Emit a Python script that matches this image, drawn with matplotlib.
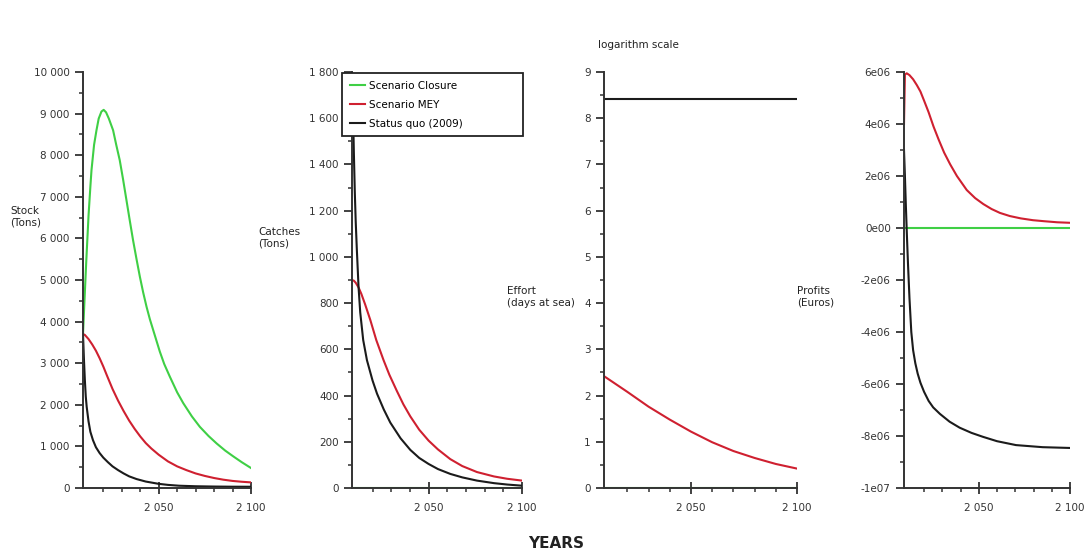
import matplotlib
matplotlib.use("Agg")
import matplotlib.pyplot as plt
from matplotlib.ticker import FixedLocator, AutoMinorLocator, FuncFormatter

plt.rcParams['font.family'] = ['DejaVu Sans']

# ---- data ----
stock_closure_years = [2009, 2010, 2010.8, 2012, 2013, 2013.6, 2015, 2016.3, 2017.5, 2019, 2020.2, 2021.5,
                       2023, 2025.3, 2027, 2028.9, 2030.7, 2032.5, 2034.3, 2036.1, 2038, 2039.8, 2041.6,
                       2043.4, 2045.2, 2047, 2050.6, 2053, 2056, 2060, 2063.3, 2068, 2072.3, 2077, 2081.4,
                       2086, 2090.4, 2095, 2100]
stock_closure = [3700, 4700, 5480, 6550, 7250, 7640, 8250, 8600, 8880, 9050, 9090, 9030,
                 8880, 8600, 8250, 7880, 7420, 6930, 6440, 5960, 5500, 5080, 4700,
                 4360, 4060, 3800, 3280, 2980, 2680, 2300, 2040, 1720, 1470, 1250, 1070,
                 900, 760, 620, 480]
stock_mey_years = [2009, 2010, 2012, 2014, 2016, 2018, 2020, 2022, 2025, 2028, 2031, 2034, 2037, 2040,
                   2043, 2046, 2050, 2055, 2060, 2065, 2070, 2075, 2080, 2085, 2090, 2095, 2100]
stock_mey = [3700, 3680, 3580, 3450, 3300, 3120, 2920, 2700, 2380, 2100, 1850, 1620, 1420, 1240,
             1080, 950, 800, 640, 520, 430, 350, 290, 240, 200, 170, 150, 135]
stock_sq_years = [2009, 2009.5, 2010, 2010.5, 2011, 2012, 2013, 2014.4, 2016, 2018, 2020, 2022.5, 2025,
                  2028, 2031, 2034, 2038, 2043, 2050, 2055, 2061, 2070, 2080, 2090, 2100]
stock_sq = [3700, 3100, 2600, 2200, 1950, 1600, 1350, 1150, 980, 840, 730, 620, 520,
            430, 350, 280, 215, 155, 100, 75, 55, 42, 35, 31, 30]

catch_years_mey = [2009, 2010, 2011, 2012.5, 2014, 2016, 2018.8, 2022, 2025.9, 2029, 2033, 2036.5, 2040.2,
                   2045, 2050, 2055, 2061.6, 2068, 2075.9, 2085, 2092, 2100]
catch_mey = [900, 897, 888, 868, 840, 795, 727, 640, 553, 490, 420, 362, 310,
             252, 205, 167, 125, 95, 69, 50, 40, 32]
catch_years_sq = [2009, 2009.5, 2010, 2010.5, 2011, 2011.6, 2012.5, 2013.4, 2015, 2017, 2020, 2022.4, 2026,
                  2029.5, 2035, 2040.2, 2045, 2050, 2055, 2061.6, 2068, 2075.9, 2085, 2092, 2100]
catch_sq = [1800, 1650, 1450, 1280, 1150, 1030, 870, 760, 640, 553, 465, 408, 340,
            283, 215, 165, 130, 104, 82, 61, 46, 32, 21, 15, 10]
catch_closure_years = [2009, 2100]
catch_closure = [0, 0]

effort_years = [2009, 2020, 2030, 2040, 2050, 2060, 2070, 2080, 2090, 2100]
effort_mey = [2.42, 2.08, 1.76, 1.48, 1.22, 0.99, 0.80, 0.65, 0.52, 0.42]
effort_sq = [8.42] * len(effort_years)
effort_closure = [0] * len(effort_years)

profit_mey_years = [2009, 2009.5, 2010.5, 2012, 2014, 2016, 2018, 2020, 2022.5, 2025.2, 2028, 2031, 2034.3,
                    2038, 2043.4, 2048, 2052.5, 2057, 2061.6, 2067, 2073, 2079.7, 2086, 2093, 2100]
profit_mey = [4.0e6, 5.9e6, 5.95e6, 5.88e6, 5.72e6, 5.5e6, 5.25e6, 4.9e6, 4.45e6, 3.9e6, 3.4e6, 2.9e6, 2.45e6,
              2.0e6, 1.46e6, 1.15e6, 0.92e6, 0.73e6, 0.58e6, 0.46e6, 0.37e6, 0.3e6, 0.26e6, 0.22e6, 0.2e6]
profit_sq_years = [2009, 2009.5, 2010, 2010.6, 2011.2, 2012, 2013, 2014, 2015.2, 2016.5, 2018, 2020, 2022.5,
                   2025, 2028.7, 2034, 2039.5, 2046, 2052.2, 2060, 2070.4, 2085, 2100]
profit_sq = [3.0e6, 2.0e6, 0.9e6, -0.3e6, -1.4e6, -2.7e6, -4.0e6, -4.7e6, -5.2e6, -5.6e6, -5.95e6, -6.3e6, -6.65e6,
             -6.9e6, -7.15e6, -7.45e6, -7.68e6, -7.88e6, -8.03e6, -8.2e6, -8.35e6, -8.43e6, -8.46e6]
profit_closure_years = [2009, 2100]
profit_closure = [0, 0]

labels = ['Scenario Closure', 'Scenario MEY', 'Status quo (2009)']
GREEN = '#3fcf45'
RED = '#cf2030'
BLACK = '#1b1b1b'
W, H = 1090, 554


def space_thousands(v, pos):
    return f"{int(round(v)):,}".replace(',', ' ')


def sci_label(v, pos):
    if v == 0:
        return '0e00'
    mant, exp = f"{v:.0e}".split('e')
    return f"{mant}e{int(exp):02d}"


def range_f(a, b, step):
    v = a
    while v <= b + step * 1e-6:
        yield v
        v += step


def style_axis(ax, ymin, ymax, ystep, yfmt):
    for side in ['top', 'right']:
        ax.spines[side].set_visible(False)
    for side in ['left', 'bottom']:
        ax.spines[side].set_linewidth(1.4)
        ax.spines[side].set_color('#333333')
    ax.set_xlim(2009, 2100)
    ax.set_ylim(ymin, ymax)
    ax.xaxis.set_major_locator(FixedLocator([2050, 2100]))
    ax.xaxis.set_minor_locator(FixedLocator([2020, 2030, 2040, 2060, 2070, 2080, 2090]))
    ax.xaxis.set_major_formatter(FuncFormatter(space_thousands))
    ax.yaxis.set_major_locator(FixedLocator(list(range_f(ymin, ymax, ystep))))
    ax.yaxis.set_minor_locator(AutoMinorLocator(2))
    ax.yaxis.set_major_formatter(FuncFormatter(yfmt))
    ax.tick_params(axis='x', which='major', direction='inout', length=9, width=1.3,
                   labelsize=7.5, colors='#333333', pad=6)
    ax.tick_params(axis='x', which='minor', direction='out', length=3, width=1.1, colors='#333333')
    ax.tick_params(axis='y', which='major', direction='out', length=6, width=1.3,
                   labelsize=7.5, colors='#333333')
    ax.tick_params(axis='y', which='minor', direction='out', length=3, width=1.1, colors='#333333')


def place(left, right):
    return [left / W, 1 - 488 / H, (right - left) / W, 416 / H]


fig = plt.figure(figsize=(10.9, 5.54), dpi=100)

ax1 = fig.add_axes(place(83, 251))
ax1.plot(stock_closure_years, stock_closure, color=GREEN, lw=1.5)
ax1.plot(stock_mey_years, stock_mey, color=RED, lw=1.5)
ax1.plot(stock_sq_years, stock_sq, color=BLACK, lw=1.5)
style_axis(ax1, 0, 10000, 1000, space_thousands)

ax2 = fig.add_axes(place(352, 522))
l1, = ax2.plot(catch_closure_years, catch_closure, color=GREEN, lw=1.5)
l2, = ax2.plot(catch_years_mey, catch_mey, color=RED, lw=1.5)
l3, = ax2.plot(catch_years_sq, catch_sq, color=BLACK, lw=1.5)
style_axis(ax2, 0, 1800, 200, space_thousands)
leg = ax2.legend([l1, l2, l3], labels, loc='upper left', mode='expand',
                 bbox_to_anchor=(342 / W, 1 - 145 / H, 181 / W, 72 / H), bbox_transform=fig.transFigure,
                 fancybox=False, framealpha=1, edgecolor='#222222', fontsize=7.5,
                 handlelength=1.5, handletextpad=0.3, borderpad=0.75, labelspacing=0.85,
                 borderaxespad=0)
leg.get_frame().set_linewidth(1.3)
leg.set_zorder(10)

ax3 = fig.add_axes(place(604, 797))
ax3.plot(effort_years, effort_closure, color=GREEN, lw=1.5)
ax3.plot(effort_years, effort_mey, color=RED, lw=1.5)
ax3.plot(effort_years, effort_sq, color=BLACK, lw=1.5)
style_axis(ax3, 0, 9, 1, lambda v, p: f"{int(round(v))}")

ax4 = fig.add_axes(place(904, 1070))
ax4.plot(profit_closure_years, profit_closure, color=GREEN, lw=1.5)
ax4.plot(profit_mey_years, profit_mey, color=RED, lw=1.5)
ax4.plot(profit_sq_years, profit_sq, color=BLACK, lw=1.5)
style_axis(ax4, -1e7, 6e6, 2e6, sci_label)

# axis titles, written horizontally beside the axes
txt = dict(fontsize=7.5, color='#222222', ha='left', va='center')
fig.text(10 / W, 1 - 217 / H, 'Stock\n(Tons)', **txt)
fig.text(258 / W, 1 - 238 / H, 'Catches\n(Tons)', **txt)
fig.text(507 / W, 1 - 297 / H, 'Effort\n(days at sea)', **txt)
fig.text(797 / W, 1 - 297 / H, 'Profits\n(Euros)', **txt)
fig.text(598 / W, 1 - 45 / H, 'logarithm scale', **txt)
fig.text(556 / W, 1 - 543 / H, 'YEARS', fontsize=11, fontweight='bold', color='#222222',
         ha='center', va='center')

fig.savefig('out.png', dpi=100)
